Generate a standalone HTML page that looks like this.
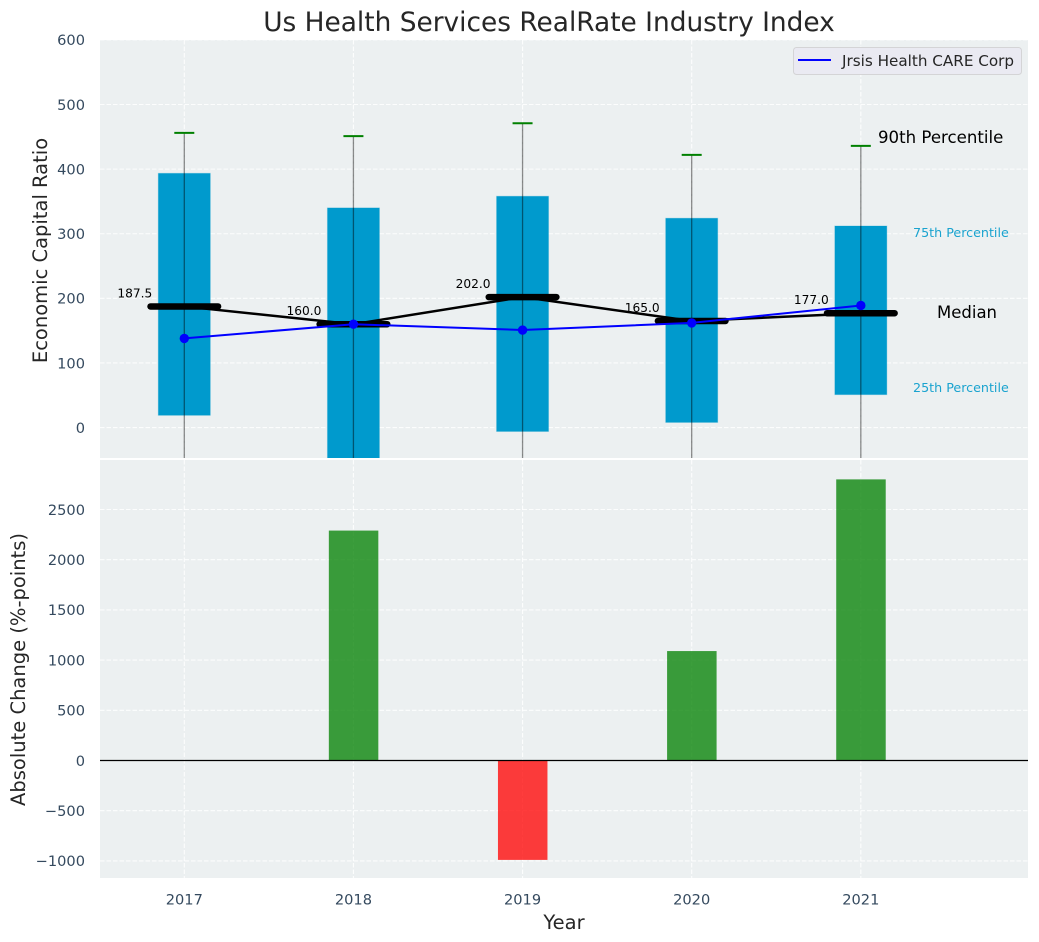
<!DOCTYPE html>
<html>
<head>
<meta charset="utf-8">
<title>Us Health Services RealRate Industry Index</title>
<style>
html,body{margin:0;padding:0;background:#fff;width:1039px;height:942px;overflow:hidden}
svg{display:block;font-family:"DejaVu Sans","Liberation Sans",sans-serif}
</style>
</head>
<body>
<svg id="chart" width="1039" height="942" viewBox="0 0 1039 942" xmlns="http://www.w3.org/2000/svg">
  <defs>
    <clipPath id="clip-top"><rect x="100" y="40" width="928" height="418"/></clipPath>
    <clipPath id="clip-bottom"><rect x="100" y="460" width="928" height="418"/></clipPath>
  </defs>
  <rect x="100" y="40" width="928" height="418" fill="#ecf0f1"/>
  <rect x="100" y="460" width="928" height="418" fill="#ecf0f1"/>
  <g id="grid"></g>
  <g id="top-marks" clip-path="url(#clip-top)"></g>
  <g id="bottom-marks" clip-path="url(#clip-bottom)"></g>
  <g id="ticks"></g>
  <text x="549" y="31" text-anchor="middle" font-size="26.4" fill="#262626">Us Health Services RealRate Industry Index</text>
  <text transform="translate(47,250.5) rotate(-90)" text-anchor="middle" font-size="19.5" fill="#262626">Economic Capital Ratio</text>
  <text transform="translate(25,669.5) rotate(-90)" text-anchor="middle" font-size="19.5" fill="#262626">Absolute Change (%-points)</text>
  <text x="564" y="929" text-anchor="middle" font-size="19.5" fill="#262626">Year</text>
  <g>
    <rect x="793.5" y="47.5" width="228" height="27" rx="3" fill="#eaeaf2" stroke="#d4d4d6" stroke-width="1"/>
    <line x1="798" y1="60" x2="831" y2="60" stroke="#0000ff" stroke-width="2"/>
    <text x="842" y="66" font-size="15.2" fill="#262626">Jrsis Health CARE Corp</text>
  </g>
  <text x="878" y="143" font-size="16.6" fill="#000">90th Percentile</text>
  <text x="913" y="237" font-size="12.7" fill="#1aa3cf">75th Percentile</text>
  <text x="937" y="318" font-size="16.5" fill="#000">Median</text>
  <text x="913" y="392" font-size="12.7" fill="#1aa3cf">25th Percentile</text>
</svg>
<script>
const years = [2017, 2018, 2019, 2020, 2021];
const p90 = [456, 451, 471, 422, 436];
const p75 = [393.5, 340, 358, 324, 312];
const medians = [187.5, 160, 202, 165, 177];
const p25 = [19, -60, -6, 8, 51];
const p10 = [-120, -150, -110, -110, -90];
const companyValues = [138, 160, 151, 162, 189];
const absoluteChange = [0, 2290, -990, 1090, 2800];
const topTicks = [0, 100, 200, 300, 400, 500, 600];
const bottomTicks = [-1000, -500, 0, 500, 1000, 1500, 2000, 2500];

const SVGNS = 'http://www.w3.org/2000/svg';
const xScale = function (year) { return 184.3 + (year - 2017) * 169.13; };
const yTop = function (v) { return 427.6 - v * 0.6462; };
const yBottom = function (v) { return 760.5 - v * 0.1004; };

function make(tag, attrs, parent, text) {
  const node = document.createElementNS(SVGNS, tag);
  Object.keys(attrs).forEach(function (k) { node.setAttribute(k, attrs[k]); });
  if (text !== undefined) node.textContent = text;
  parent.appendChild(node);
  return node;
}

const grid = document.getElementById('grid');
const topMarks = document.getElementById('top-marks');
const bottomMarks = document.getElementById('bottom-marks');
const ticks = document.getElementById('ticks');
const gridStyle = { stroke: '#ffffff', 'stroke-width': 1.1, 'stroke-dasharray': '4.5 2', 'stroke-opacity': 0.85 };

topTicks.forEach(function (t) {
  const y = yTop(t);
  const line = make('line', Object.assign({ x1: 100, x2: 1028, y1: y, y2: y }, gridStyle), grid);
  
  
  const label = make('text', { x: 85, y: y + 5.3, 'text-anchor': 'end', 'font-size': 14.6, fill: '#34495e' }, ticks, String(t));
  
  
});

bottomTicks.forEach(function (t) {
  const y = yBottom(t);
  const line = make('line', Object.assign({ x1: 100, x2: 1028, y1: y, y2: y }, gridStyle), grid);
  
  
  const label = make('text', { x: 85, y: y + 5.3, 'text-anchor': 'end', 'font-size': 14.6, fill: '#34495e' }, ticks, String(t).replace('-', '\u2212'));
  
  
});

years.forEach(function (year) {
  const x = xScale(year);
  const lineTop = make('line', Object.assign({ x1: x, x2: x, y1: 40, y2: 458 }, gridStyle), grid);
  
  
  const lineBottom = make('line', Object.assign({ x1: x, x2: x, y1: 460, y2: 878 }, gridStyle), grid);
  
  
  const label = make('text', { x: x, y: 904.5, 'text-anchor': 'middle', 'font-size': 14.6, fill: '#34495e' }, ticks, String(year));
  
  
});

years.forEach(function (year, i) {
  const x = xScale(year);
  const yHigh = yTop(p75[i]);
  const yLow = yTop(p25[i]);
  const box = make('rect', { x: x - 26, y: yHigh, width: 52, height: yLow - yHigh, fill: '#009acd', stroke: '#009acd', 'stroke-opacity': 0.25, 'stroke-width': 1 }, topMarks);
  
  
  const whisker = make('line', { x1: x, x2: x, y1: yTop(p90[i]), y2: yTop(p10[i]), stroke: '#000', 'stroke-opacity': 0.45, 'stroke-width': 1.3 }, topMarks);
  
  
  const cap = make('line', { x1: x - 10, x2: x + 10, y1: yTop(p90[i]), y2: yTop(p90[i]), stroke: '#008000', 'stroke-width': 2 }, topMarks);
  
  
});

const medianPoints = years.map(function (year, i) { return xScale(year) + ',' + yTop(medians[i]); }).join(' ');
const medianLine = make('polyline', { points: medianPoints, fill: 'none', stroke: '#000', 'stroke-width': 2.5 }, topMarks);



years.forEach(function (year, i) {
  const x = xScale(year);
  const y = yTop(medians[i]);
  const bar = make('line', { x1: x - 33.8, x2: x + 33.8, y1: y, y2: y, stroke: '#000', 'stroke-width': 6.5, 'stroke-linecap': 'round' }, topMarks);
  
  
  const label = make('text', { x: x - 32, y: y - 9, 'text-anchor': 'end', 'font-size': 12.2, fill: '#000' }, topMarks, medians[i].toFixed(1));
  
  
});

const companyPoints = years.map(function (year, i) { return xScale(year) + ',' + yTop(companyValues[i]); }).join(' ');
const companyLine = make('polyline', { points: companyPoints, fill: 'none', stroke: '#0000ff', 'stroke-width': 2 }, topMarks);



years.forEach(function (year, i) {
  const dot = make('circle', { cx: xScale(year), cy: yTop(companyValues[i]), r: 4.7, fill: '#0000ff' }, topMarks);
  
  
});

years.forEach(function (year, i) {
  const v = absoluteChange[i];
  if (v === 0) return;
  const y0 = yBottom(0);
  const y1 = yBottom(v);
  const bar = make('rect', { x: xScale(year) - 24.6, y: Math.min(y0, y1), width: 49.5, height: Math.abs(y1 - y0), fill: v > 0 ? '#008000' : '#ff0000', 'fill-opacity': 0.76 }, bottomMarks);
  
  
});

const zeroLine = make('line', { x1: 100, x2: 1028, y1: yBottom(0), y2: yBottom(0), stroke: '#000', 'stroke-width': 1.2 }, bottomMarks);


</script>
</body>
</html>
